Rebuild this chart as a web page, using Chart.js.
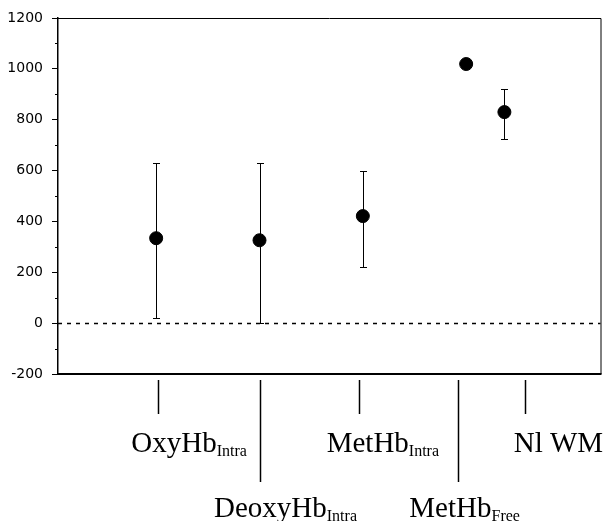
<!DOCTYPE html>
<html>
<head>
<meta charset="utf-8">
<script src="https://cdn.jsdelivr.net/npm/chart.js@4/dist/chart.umd.min.js"></script>
<style>
  body { margin: 0; background: #fff; }
  canvas { display: block; }
</style>
</head>
<body>
<canvas id="hb-chart" width="608" height="521"></canvas>
<script>
// groups along the bottom
const groupNames = ["OxyHb", "DeoxyHb", "MetHb", "MetHb", "Nl WM"];
const groupSubs = ["Intra", "Intra", "Intra", "Free", ""];
const labelRow = [0, 1, 0, 1, 0];

// where each point sits on the x axis
const pointX = [0.95, 1.95, 2.95, 3.95, 4.32];
// where the label marker lines and label text start
const markerX = [0.97, 1.95, 2.91, 3.875, 4.52];
const labelStartX = [0.71, 1.51, 2.6, 3.4, 4.41];

// values
const means = [334, 326, 421, 1019, 830];
const upper = [629, 629, 598, 1032, 920];
const lower = [20, 0, 220, 1006, 724];

const yTicks = [-200, 0, 200, 400, 600, 800, 1000, 1200];

const points = pointX.map((x, i) => ({ x: x, y: means[i] }));

// error bars + zero line, under the points
const errorBars = {
    id: 'errorBars',
    beforeDatasetsDraw(chart) {
        const ctx = chart.ctx;
        const xs = chart.scales.x;
        const ys = chart.scales.y;
        const area = chart.chartArea;

        ctx.save();
        // dashed zero line
        ctx.strokeStyle = '#000';
        ctx.lineWidth = 1.5;
        ctx.setLineDash([4, 5]);
        ctx.beginPath();
        ctx.moveTo(area.left, Math.round(ys.getPixelForValue(0)) + 0.5);
        ctx.lineTo(area.right, Math.round(ys.getPixelForValue(0)) + 0.5);
        ctx.stroke();
        ctx.setLineDash([]);

        ctx.lineWidth = 1;
        for (let i = 0; i < means.length; i++) {
            const px = Math.round(xs.getPixelForValue(pointX[i])) + 0.5;
            const top = ys.getPixelForValue(upper[i]);
            const bot = ys.getPixelForValue(lower[i]);
            ctx.beginPath();
            ctx.moveTo(px, top);
            ctx.lineTo(px, bot);
            ctx.moveTo(px - 3.5, Math.round(top) + 0.5);
            ctx.lineTo(px + 3.5, Math.round(top) + 0.5);
            ctx.moveTo(px - 3.5, Math.round(bot) + 0.5);
            ctx.lineTo(px + 3.5, Math.round(bot) + 0.5);
            ctx.stroke();
        }
        ctx.restore();
    }
};

// frame, minor ticks and the group labels
const frameAndLabels = {
    id: 'frameAndLabels',
    afterDraw(chart) {
        const ctx = chart.ctx;
        const xs = chart.scales.x;
        const ys = chart.scales.y;
        const area = chart.chartArea;

        ctx.save();
        ctx.strokeStyle = '#000';
        // top and right borders
        ctx.lineWidth = 1;
        ctx.beginPath();
        ctx.moveTo(area.left, area.top + 0.5);
        ctx.lineTo(area.right + 0.5, area.top + 0.5);
        ctx.lineTo(area.right + 0.5, area.bottom);
        ctx.stroke();
        // bottom axis, heavier
        ctx.lineWidth = 2;
        ctx.beginPath();
        ctx.moveTo(area.left, area.bottom);
        ctx.lineTo(area.right + 1, area.bottom);
        ctx.stroke();

        // minor ticks every 100
        ctx.lineWidth = 1;
        ctx.beginPath();
        for (let v = -100; v < 1200; v += 200) {
            const py = Math.round(ys.getPixelForValue(v)) + 0.5;
            ctx.moveTo(area.left - 3, py);
            ctx.lineTo(area.left, py);
        }
        ctx.stroke();

        // label marker lines
        ctx.lineWidth = 1.5;
        for (let i = 0; i < groupNames.length; i++) {
            const px = Math.round(xs.getPixelForValue(markerX[i])) + 0.5;
            const endY = labelRow[i] === 0 ? area.bottom + 40 : area.bottom + 108;
            ctx.beginPath();
            ctx.moveTo(px, area.bottom + 6);
            ctx.lineTo(px, endY);
            ctx.stroke();
        }

        // label text with subscripts
        ctx.fillStyle = '#000';
        ctx.textAlign = 'left';
        ctx.textBaseline = 'alphabetic';
        for (let i = 0; i < groupNames.length; i++) {
            const px = xs.getPixelForValue(labelStartX[i]);
            const base = labelRow[i] === 0 ? area.bottom + 78 : area.bottom + 143;
            ctx.font = '29px "Liberation Serif", "Times New Roman", serif';
            ctx.fillText(groupNames[i], px, base);
            const w = ctx.measureText(groupNames[i]).width;
            if (groupSubs[i]) {
                ctx.font = '16px "Liberation Serif", "Times New Roman", serif';
                ctx.fillText(groupSubs[i], px + w, base + 4);
            }
        }
        ctx.restore();
    }
};

new Chart(document.getElementById('hb-chart'), {
    type: 'scatter',
    data: {
        datasets: [{
            data: points,
            backgroundColor: '#000',
            borderColor: '#000',
            pointRadius: 6.5,
            pointHoverRadius: 6.5
        }]
    },
    options: {
        responsive: false,
        devicePixelRatio: 1,
        animation: false,
        layout: {
            padding: { top: 18, right: 4, bottom: 147, left: 0 }
        },
        scales: {
            x: {
                type: 'linear',
                min: 0,
                max: 5.25,
                display: false
            },
            y: {
                type: 'linear',
                min: -200,
                max: 1200,
                afterFit(scale) {
                    scale.width = 58;
                },
                afterBuildTicks(scale) {
                    scale.ticks = yTicks.map(v => ({ value: v }));
                },
                border: { display: true, color: '#000', width: 1.5 },
                grid: {
                    drawOnChartArea: false,
                    drawTicks: true,
                    tickLength: 6,
                    tickColor: '#000',
                    tickWidth: 1
                },
                ticks: {
                    color: '#000',
                    padding: 9,
                    font: { family: '"DejaVu Sans", sans-serif', size: 14 },
                    callback: v => String(v)
                }
            }
        },
        plugins: {
            legend: { display: false },
            tooltip: { enabled: false }
        }
    },
    plugins: [errorBars, frameAndLabels]
});
</script>
</body>
</html>
